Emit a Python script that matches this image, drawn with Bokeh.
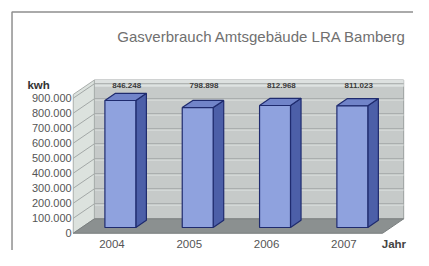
from bokeh.plotting import figure
from bokeh.models import Range1d
from bokeh.core.properties import value
from bokeh.embed import file_html
from bokeh.resources import INLINE

# ---- data ----
years = ["2004", "2005", "2006", "2007"]
consumption = [846248, 798898, 812968, 811023]
value_labels = ["846.248", "798.898", "812.968", "811.023"]
tick_values = [0, 100000, 200000, 300000, 400000, 500000, 600000, 700000, 800000, 900000]
tick_labels = ["0", "100.000", "200.000", "300.000", "400.000", "500.000",
               "600.000", "700.000", "800.000", "900.000"]
title_text = "Gasverbrauch Amtsgebäude LRA Bamberg"
y_unit = "kwh"
x_unit = "Jahr"

# ---- 3D style constants (data units) ----
DX = 0.273        # depth offset in category units
DY = 96000        # depth offset in kWh units
WALL_TOP = 925000
BAR_FRONT = 0.4   # bar front plane as fraction of depth
BAR_DEPTH = 0.5   # bar depth as fraction of depth
BAR_HALF = 0.2

n = len(years)
xl, xr = -0.5, n - 0.5
FONT = value("Liberation Sans")

X0, X1 = -1.441, 3.90
Y0, Y1 = -114900, 1551000

p = figure(width=413, height=250, x_range=Range1d(X0, X1),
           y_range=Range1d(Y0, Y1), output_backend="svg",
           toolbar_location=None, min_border=0, x_axis_type=None, y_axis_type=None)
p.grid.visible = False
p.outline_line_color = None
p.background_fill_color = "white"
p.border_fill_color = "white"

# outer frame (left and top edges)
fx, fy = -1.292, 1474000
p.line(x=[fx, fx, X1], y=[Y0, fy, fy], line_color="#8f8f8f", line_width=1.5)

# back wall
p.quad(left=[xl + DX], right=[xr + DX], bottom=[DY], top=[WALL_TOP + DY],
       fill_color="#c6cac9", line_color="#9a9f9e", line_width=1)
# label strip on top of back wall
p.quad(left=[xl + DX], right=[xr + DX], bottom=[880000 + DY], top=[WALL_TOP + DY],
       fill_color="#dde1e0", line_color=None)
# back wall gridlines
p.multi_line(xs=[[xl + DX, xr + DX] for t in tick_values[1:]],
             ys=[[t + DY, t + DY] for t in tick_values[1:]],
             line_color="#a0a5a4", line_width=1.2)
p.multi_line(xs=[[xl + DX, xr + DX] for t in tick_values[1:]],
             ys=[[t + DY - 8000, t + DY - 8000] for t in tick_values[1:]],
             line_color="#e0e4e3", line_width=1)

# side wall
p.patch(x=[xl, xl + DX, xl + DX, xl], y=[0, DY, WALL_TOP + DY, WALL_TOP],
        fill_color="#dce2de", line_color="#a9aeac", line_width=1)
p.multi_line(xs=[[xl, xl + DX] for t in tick_values[1:]],
             ys=[[t, t + DY] for t in tick_values[1:]],
             line_color="#a3a8a7", line_width=1)

# floor
p.patch(x=[xl, xr, xr + DX, xl + DX], y=[0, 0, DY, DY],
        fill_color="#8b9090", line_color="#7a7f7f", line_width=1)

# bars
fronts_l, fronts_r, tops, side_xs, side_ys, top_xs, top_ys = [], [], [], [], [], [], []
b0 = BAR_FRONT * DY
ox, oy = BAR_DEPTH * DX, BAR_DEPTH * DY
for i, v in enumerate(consumption):
    c = i + BAR_FRONT * DX
    L, R, T = c - BAR_HALF, c + BAR_HALF, v + b0
    fronts_l.append(L); fronts_r.append(R); tops.append(T)
    side_xs.append([R, R + ox, R + ox, R]); side_ys.append([b0, b0 + oy, T + oy, T])
    top_xs.append([L, R, R + ox, L + ox]); top_ys.append([T, T, T + oy, T + oy])

p.patches(xs=side_xs, ys=side_ys, fill_color="#4c5fa8", line_color="#1f2b6e", line_width=1.2)
p.patches(xs=top_xs, ys=top_ys, fill_color="#7184c9", line_color="#1f2b6e", line_width=1.2)
p.quad(left=fronts_l, right=fronts_r, bottom=[b0] * n, top=tops,
       fill_color="#8fa2de", line_color="#1f2b6e", line_width=1.2)

# value labels on back wall strip
p.text(x=[i + 0.7 * DX for i in range(n)], y=[985000] * n, text=value_labels,
       text_font=FONT, text_font_size="8px", text_font_style="bold",
       text_color="#3a3a3a", text_align="center", text_baseline="middle")

# y tick labels
p.text(x=[-0.52] * len(tick_values), y=tick_values, text=tick_labels,
       text_font=FONT, text_font_size="11px", text_color="#555555",
       text_align="right", text_baseline="middle")

# x category labels
p.text(x=list(range(n)), y=[-70000] * n, text=years,
       text_font=FONT, text_font_size="11.5px", text_color="#555555",
       text_align="center", text_baseline="middle")

# axis units
p.text(x=[3.49], y=[-70000], text=[x_unit], text_font=FONT, text_font_size="11.5px",
       text_font_style="bold", text_color="#444444", text_align="left", text_baseline="middle")
p.text(x=[-1.093], y=[989000], text=[y_unit], text_font=FONT, text_font_size="11.5px",
       text_font_style="bold", text_color="#333333", text_align="left", text_baseline="middle")

# title
p.text(x=[1.94], y=[1308000], text=[title_text], text_font=FONT, text_font_size="15px",
       text_color="#707070", text_align="center", text_baseline="middle")

open("out.html", "w").write(file_html(p, INLINE))
